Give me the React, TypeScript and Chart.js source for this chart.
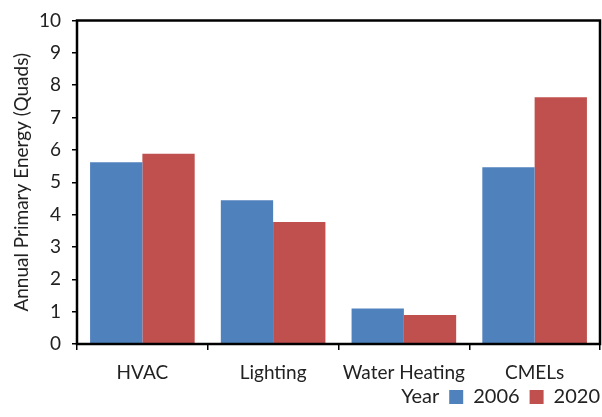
import React, { useEffect, useRef } from "react";
import { Chart, registerables } from "chart.js";

Chart.register(...registerables);

const categories = ["HVAC", "Lighting", "Water Heating", "CMELs"];
const values2006 = [5.62, 4.44, 1.1, 5.46];
const values2020 = [5.88, 3.77, 0.9, 7.63];
const seriesLabels = ["2006", "2020"];
const legendTitle = "Year";
const yTitle = "Annual Primary Energy (Quads)";

const FONT = "Lato, 'Open Sans', sans-serif";

export default function App() {
  const ref = useRef<HTMLCanvasElement | null>(null);
  useEffect(() => {
    document.body.style.margin = "0";
    const framePlugin = {
      id: "frame",
      afterDatasetsDraw(chart: any) {
        const { ctx, chartArea } = chart;
        ctx.save();
        ctx.strokeStyle = "#000";
        ctx.lineWidth = 2.5;
        ctx.strokeRect(chartArea.left, chartArea.top, chartArea.right - chartArea.left, chartArea.bottom - chartArea.top);
        ctx.restore();
      },
    };
    const yearPlugin = {
      id: "yearTitle",
      afterDraw(chart: any) {
        const lg = chart.legend;
        if (!lg || !lg.legendHitBoxes || !lg.legendHitBoxes.length) return;
        const hb = lg.legendHitBoxes[0];
        const ctx = chart.ctx;
        ctx.save();
        ctx.font = `20px ${FONT}`;
        ctx.fillStyle = "#222";
        ctx.textAlign = "right";
        ctx.textBaseline = "middle";
        ctx.fillText(legendTitle, hb.left - 10, hb.top + hb.height / 2);
        ctx.restore();
      },
    };
    const chart = new Chart(ref.current!, {
      type: "bar",
      data: {
        labels: categories,
        datasets: [
          { label: seriesLabels[0], data: values2006, backgroundColor: "#4f81bd", categoryPercentage: 0.8, barPercentage: 1.0 },
          { label: seriesLabels[1], data: values2020, backgroundColor: "#c0504d", categoryPercentage: 0.8, barPercentage: 1.0 },
        ],
      },
      options: {
        animation: false,
        responsive: false,
        maintainAspectRatio: false,
        layout: { padding: { left: 0, right: 2, top: 0, bottom: 0 } },
        plugins: {
          tooltip: { enabled: false },
          legend: {
            position: "bottom",
            align: "end",
            labels: {
              boxWidth: 14,
              boxHeight: 14,
              padding: 0,
              color: "#222",
              font: { family: FONT, size: 20 },
              generateLabels(chart: any) {
                const items = Chart.defaults.plugins.legend.labels.generateLabels(chart);
                return items.map((it: any, i: number) =>
                  i < items.length - 1 ? { ...it, text: it.text + "\u2002" } : it
                );
              },
            },
          },
        },
        scales: {
          x: {
            afterFit(scale: any) { scale.height = 43; },
            grid: { display: true, drawOnChartArea: false, offset: true, tickLength: 6, color: "#000", lineWidth: 1.5 },
            border: { display: false },
            ticks: { color: "#222", font: { family: FONT, size: 19 }, padding: 11 },
          },
          y: {
            min: 0,
            max: 10,
            afterFit(scale: any) { scale.width = 77; },
            grid: { display: true, drawOnChartArea: false, tickLength: 5, color: "#000", lineWidth: 1.5 },
            border: { display: false },
            ticks: { stepSize: 1, color: "#222", font: { family: FONT, size: 19, lineHeight: 1 }, padding: 11 },
            title: { display: true, text: yTitle, color: "#222", font: { family: FONT, size: 19 }, padding: { top: 10, bottom: 4 } },
          },
        },
      },
      plugins: [framePlugin, yearPlugin],
    });
    return () => chart.destroy();
  }, []);
  return (
    <div style={{ width: 602, height: 417, background: "#fff" }}>
      <canvas ref={ref} width={602} height={417} />
    </div>
  );
}
